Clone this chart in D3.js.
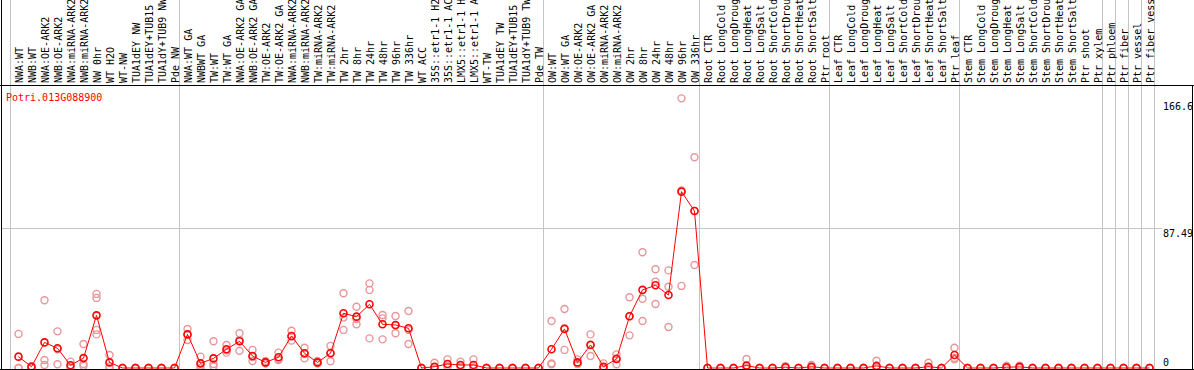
<!DOCTYPE html>
<html>
<head>
<meta charset="utf-8">
<script src="https://cdn.jsdelivr.net/npm/d3@7"></script>
<style>
  body { margin: 0; background: #fff; }
  text { font-family: "DejaVu Sans Mono", monospace; font-size: 10px; }
</style>
</head>
<body>
<div id="chart"></div>
<script>
"use strict";

// sample names, left to right
const samples = [
  "NWA:WT", "NWB:WT", "NWA:OE-ARK2", "NWB:OE-ARK2", "NWA:miRNA-ARK2", "NWB:miRNA-ARK2",
  "NW 0hr", "WT H2O", "WT-NW", "TUA1dEY NW", "TUA1dEY+TUB15 NW", "TUA1dY+TUB9 NW", "Pde NW",
  "NWA:WT GA", "NWBWT GA", "TW:WT", "TW:WT GA", "NWA:OE-ARK2 GA", "NWB:OE-ARK2 GA",
  "TW:OE-ARK2", "TW:OE-ARK2 GA", "NWA:miRNA-ARK2", "NWB:miRNA-ARK2", "TW:miRNA-ARK2",
  "TW:miRNA-ARK2", "TW 2hr", "TW 8hr", "TW 24hr", "TW 48hr", "TW 96hr", "TW 336hr", "WT ACC",
  "35S::etr1-1 H2O", "35S::etr1-1 ACC", "LMX5::etr1-1 H2O", "LMX5::etr1-1 ACC", "WT-TW",
  "TUA1dEY TW", "TUA1dEY+TUB15 TW", "TUA1dY+TUB9 TW", "Pde TW",
  "OW:WT", "OW:WT GA", "OW:OE-ARK2", "OW:OE-ARK2 GA", "OW:miRNA-ARK2", "OW:miRNA-ARK2",
  "OW 2hr", "OW 8hr", "OW 24hr", "OW 48hr", "OW 96hr", "OW 336hr",
  "Root CTR", "Root LongCold", "Root LongDrought", "Root LongHeat", "Root LongSalt",
  "Root ShortCold", "Root ShortDrought", "Root ShortHeat", "Root ShortSalt", "Ptr root",
  "Leaf CTR", "Leaf LongCold", "Leaf LongDrought", "Leaf LongHeat", "Leaf LongSalt",
  "Leaf ShortCold", "Leaf ShortDrought", "Leaf ShortHeat", "Leaf ShortSalt", "Ptr leaf",
  "Stem CTR", "Stem LongCold", "Stem LongDrought", "Stem LongHeat", "Stem LongSalt",
  "Stem ShortCold", "Stem ShortDrought", "Stem ShortHeat", "Stem ShortSalt", "Ptr shoot", "Ptr xylem",
  "Ptr phloem", "Ptr fiber", "Ptr vessel", "Ptr fiber vessel"
];

// index of the first sample of each group (a separator line is drawn before it)
const groupStarts = [0, 13, 41, 53, 63, 73, 84, 85, 86, 87];

// mean expression per sample
const means = [
  7.1, 0.8, 16.0, 12.3, 1.7, 6.2, 32.9, 3.5, 0, 0, 0, 0, 0,
  21.0, 2.9, 6.0, 11.7, 16.7, 7.5, 3.5, 6.7, 20.0, 9.2, 3.5, 9.2, 34.2, 32.1, 39.8, 27.3,
  26.9, 24.8, 0, 0.8, 2.5, 1.9, 1.9, 0, 0, 0, 0, 0,
  11.7, 24.4, 3.5, 14.4, 0.8, 5.6, 32.3, 48.8, 51.7, 45.6, 110.2, 98.1,
  0, 0, 0, 1.5, 0, 0, 0.5, 0, 0.8, 0,
  0, 0, 0, 1.3, 0, 0, 0, 0.8, 0, 8.1,
  0, 0, 0, 0.5, 0.7, 0, 0, 0, 0, 0, 0,
  0, 0, 0, 0
];

// replicate values per sample
const replicates = [
  [21.3, 0, 0], [1.2, 0.5, 0], [42.3, 5.0, 1.9], [22.9, 11.7, 2.3], [4.0, 1.0, 0],
  [15.0, 2.5, 1.3], [46.3, 43.8, 23.8, 21.0], [8.1, 1.0, 0], [0, 0, 0], [0, 0, 0],
  [0, 0, 0], [0, 0, 0], [0, 0, 0],
  [24.4, 21.0, 17.5], [7.1, 1.5, 0], [16.7, 2.5, 1.0], [14.4, 11.0, 9.6], [21.7, 17.6, 10.8],
  [11.3, 6.9, 4.4], [4.4, 3.0, 3.0], [9.6, 5.5, 5.0], [23.3, 19.6, 17.1], [12.7, 8.9, 6.0],
  [4.4, 3.0, 3.0], [13.8, 9.6, 4.2], [46.7, 31.5, 23.8], [38.3, 30.6, 27.3], [52.9, 48.8, 18.5],
  [33.1, 31.0, 17.9], [32.5, 26.5, 21.7], [35.6, 23.8, 15.0], [0, 0, 0], [3.3, 0, 0],
  [5.4, 1.3, 0.8], [4.0, 0.9, 0.8], [5.4, 0.2, 0], [0, 0, 0], [0, 0, 0], [0, 0, 0], [0, 0, 0],
  [0, 0, 0],
  [29.4, 2.9, 2.3], [36.9, 25.0, 11.3], [5.4, 2.6, 2.5], [21.0, 14.7, 7.5], [2.9, 0, 0],
  [8.5, 6.0, 2.3], [44.2, 32.3, 20.4], [72.3, 43.3, 29.4], [61.7, 54.0, 40.0],
  [61.0, 50.8, 25.6], [168.5, 110.9, 51.3], [131.7, 98.2, 64.4],
  [0, 0, 0], [0, 0, 0], [0, 0, 0], [5.6, 0, 0], [0, 0, 0], [0, 0, 0], [1.2, 0.3, 0],
  [0, 0, 0], [1.9, 0.5, 0], [0, 0, 0],
  [0, 0, 0], [0, 0, 0], [0, 0, 0], [4.5, 0.5, 0], [0, 0, 0], [0, 0, 0], [0, 0, 0],
  [3.3, 0, 0], [0, 0, 0], [12.7, 6.3, 5.4],
  [0, 0, 0], [0, 0, 0], [0, 0, 0], [1.5, 0, 0], [1.5, 0.5, 0], [0, 0, 0], [0, 0, 0],
  [0, 0, 0], [0, 0, 0], [0, 0, 0], [0, 0, 0],
  [0, 0, 0], [0, 0, 0], [0, 0, 0], [0, 0, 0]
];

const yTicks = [0, 87.49, 166.6];
const yMax = 174.98;
const geneName = "Potri.013G088900";

const width = 1194, height = 370;
const plotTop = 85, plotBottom = 368;

let svg = d3.select("#chart").append("svg")
  .attr("width", width)
  .attr("height", height);

//band for every sample (by index, names repeat), 13px each
let x = d3.scaleBand()
  .domain(d3.range(samples.length))
  .range([10, 10 + 13 * samples.length]);

let y = d3.scaleLinear()
  .domain([0, yMax])
  .range([plotBottom, plotTop + 3]);

const px = i => x(i) + 8.5;

//group separators
const seps = groupStarts.map(i => x(i)).concat([x.range()[1]]);
svg.selectAll("line.sep")
  .data(seps)
  .enter().append("line")
  .attr("x1", d => Math.round(d) + 0.5)
  .attr("x2", d => Math.round(d) + 0.5)
  .attr("y1", 0)
  .attr("y2", plotBottom + 1)
  .attr("stroke", "#c4c4c4");

//horizontal grid line for the middle tick
svg.append("line")
  .attr("x1", 1).attr("x2", 1162)
  .attr("y1", Math.round(y(yTicks[1])) + 0.5)
  .attr("y2", Math.round(y(yTicks[1])) + 0.5)
  .attr("stroke", "#c4c4c4");

//sample labels, rotated
svg.selectAll("text.lab")
  .data(samples)
  .enter().append("text")
  .attr("transform", (d, i) => `translate(${x(i) + 12.5},${plotTop - 2}) rotate(-90)`)
  .text(d => d);

//gene name
svg.append("text")
  .attr("x", 6).attr("y", 101)
  .attr("fill", "#ff0000")
  .text(geneName);

//y tick labels on the right
svg.selectAll("text.tick")
  .data(yTicks)
  .enter().append("text")
  .attr("x", 1163)
  .attr("y", d => d === 0 ? y(d) - 2 : y(d) + 9)
  .text(d => d);

//replicate points
let repData = [];
replicates.forEach((reps, i) => reps.forEach(v => repData.push({ i: i, v: v })));
svg.selectAll("circle.rep")
  .data(repData)
  .enter().append("circle")
  .attr("cx", d => px(d.i))
  .attr("cy", d => y(d.v))
  .attr("r", 3.5)
  .attr("fill", "none")
  .attr("stroke", "#e8969a")
  .attr("stroke-width", 1.4);

//mean line
let line = d3.line()
  .x((d, i) => px(i))
  .y(d => y(d));
svg.append("path")
  .attr("d", line(means))
  .attr("fill", "none")
  .attr("stroke", "#ff0000")
  .attr("stroke-width", 1);

//mean points
svg.selectAll("circle.mean")
  .data(means)
  .enter().append("circle")
  .attr("cx", (d, i) => px(i))
  .attr("cy", d => y(d))
  .attr("r", 3.5)
  .attr("fill", "none")
  .attr("stroke", "#ff0000")
  .attr("stroke-width", 1.6);

//frame
svg.append("line").attr("x1", 0).attr("x2", width).attr("y1", plotTop + 0.5).attr("y2", plotTop + 0.5).attr("stroke", "#000");
svg.append("line").attr("x1", 0).attr("x2", width).attr("y1", plotBottom + 1.5).attr("y2", plotBottom + 1.5).attr("stroke", "#000");
svg.append("line").attr("x1", 1.5).attr("x2", 1.5).attr("y1", 0).attr("y2", height).attr("stroke", "#000");
svg.append("line").attr("x1", width - 1.5).attr("x2", width - 1.5).attr("y1", plotTop).attr("y2", height).attr("stroke", "#000");
</script>
</body>
</html>
